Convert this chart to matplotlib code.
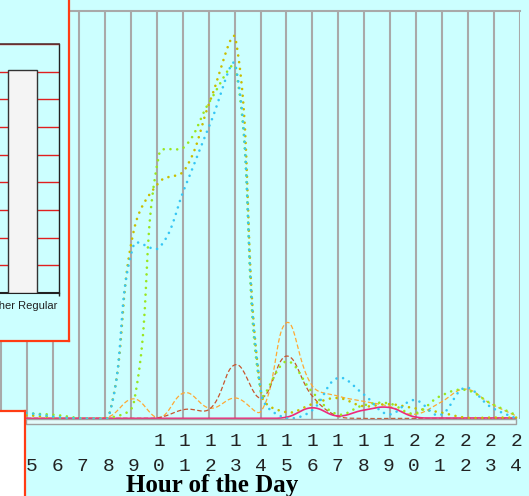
import numpy as np
import matplotlib
matplotlib.use("Agg")
import matplotlib.pyplot as plt
from matplotlib.patches import Rectangle

# ---------------- data ----------------
hours = list(range(4, 25))
tick_hours = list(range(5, 25))

blue_dotted   = [1.5, 1.2, 0.3, 0, 0, 42.6, 41.9, 56.6, 72.3, 86.5, 6, 0, 2, 9.9, 6, 1, 4.5, 0.8, 7.5, 2.8, 0]
yellow_dotted = [1, 0.7, 0.2, 0, 0, 46, 58, 61, 78, 93, 6, 1.5, 3.5, 5, 3, 3.5, 2.5, 1.5, 0.2, 0.2, 0.2]
green_dotted  = [1.5, 1.2, 0.8, 0, 0, 3.7, 65, 66.7, 78, 86, 6, 14, 6.5, 1, 3.2, 3.7, 1.2, 5.4, 7, 3.7, 0.8]
orange_dashed = [0, 0, 0, 0, 0.3, 4.8, 0.2, 6.3, 2.5, 5, 1.8, 23.5, 8, 5.5, 4.2, 3, 1, 3.8, 7.2, 3.6, 0.6]
brown_dashed  = [0, 0, 0, 0, 0, 0, 0.2, 2.2, 2.4, 13.2, 5, 15.3, 5.5, 0.5, 0, 0, 0, 0, 0, 0, 0]
pink_solid    = [0, 0, 0, 0, 0, 0, 0, 0, 0, 0, 0, 0.3, 2.6, 0.6, 2, 2.7, 0.4, 0.1, 0.1, 0.1, 0.1]

bar_categories = ["Other Regular"]
bar_values = [80.6]

x_title = "Hour of the Day"

# ---------------- style ----------------
BG = "#ccffff"
GRID = "#a9a9a9"
FRAME_RED = "#ff3c14"
W, H = 529, 496
YMIN, YMAX = -0.15, 100
XPX, YPX = 25.5, 408.0 / (YMAX - YMIN)   # pixels per hour / per unit

fig = plt.figure(figsize=(W / 100, H / 100), dpi=100, facecolor=BG)


def px_rect(x0, y0, x1, y1):
    return [x0 / W, 1 - y1 / H, (x1 - x0) / W, (y1 - y0) / H]


def spline(xs, ys, tension=0.4, n=24):
    """Tension spline with control points capped to the plot area."""
    P = np.column_stack([np.asarray(xs, float) * XPX, np.asarray(ys, float) * YPX])
    N = len(P)
    cpp = np.zeros_like(P)
    cpn = np.zeros_like(P)
    for i in range(N):
        cur = P[i]
        prv = P[i - 1] if i > 0 else cur
        nxt = P[i + 1] if i < N - 1 else cur
        d01 = np.hypot(*(cur - prv))
        d12 = np.hypot(*(nxt - cur))
        tot = d01 + d12
        s01 = d01 / tot if tot else 0.0
        s12 = d12 / tot if tot else 0.0
        cpp[i] = cur - tension * s01 * (nxt - prv)
        cpn[i] = cur + tension * s12 * (nxt - prv)
    lo, hi = YMIN * YPX, YMAX * YPX
    cpp[:, 1] = np.clip(cpp[:, 1], lo, hi)
    cpn[:, 1] = np.clip(cpn[:, 1], lo, hi)
    t = np.linspace(0, 1, n, endpoint=False)[:, None]
    segs = []
    for i in range(N - 1):
        b = ((1 - t) ** 3 * P[i] + 3 * (1 - t) ** 2 * t * cpn[i]
             + 3 * (1 - t) * t ** 2 * cpp[i + 1] + t ** 3 * P[i + 1])
        segs.append(b)
    segs.append(P[-1:])
    out = np.vstack(segs)
    return out[:, 0] / XPX, out[:, 1] / YPX


# ---------------- main line chart ----------------
ax = fig.add_axes(px_rect(0, 11, 520, 419))
ax.set_facecolor(BG)
ax.set_xlim(3.757, 24.149)
ax.set_ylim(YMIN, YMAX)
for s in ax.spines.values():
    s.set_visible(False)
ax.set_yticks([])

grid_x = 5 + (27 + 25.95 * np.arange(-1, 20) - 31.7) / 25.5
for gx in grid_x:
    ax.axvline(gx, color=GRID, lw=1.5, zorder=1)
ax.axhline(YMAX, color=GRID, lw=1.5, zorder=1, clip_on=False)

dashed_specs = [
    (orange_dashed, "#ffa833"),
    (brown_dashed, "#c8552d"),
]
for vals, col in dashed_specs:
    sx, sy = spline(hours, vals)
    ax.plot(sx, sy, color=col, lw=0.9, ls=(0, (3.6, 1.9)), zorder=3)

sx, sy = spline(hours, pink_solid)
ax.plot(sx, sy, color="#ee2a7b", lw=1.2, zorder=4)

dotted_specs = [
    (yellow_dotted, "#c9bd00"),
    (green_dotted, "#99e620"),
    (blue_dotted, "#36c6f4"),
]
for vals, col in dotted_specs:
    sx, sy = spline(hours, vals)
    ax.plot(sx, sy, color=col, lw=1.9, ls=(0, (0.01, 2.55)),
            dash_capstyle="round", zorder=5)

ax.set_xticks(tick_hours)
ax.set_xticklabels(["\n".join(f"{h:>2}") for h in tick_hours],
                   family="Liberation Mono", fontsize=14, color="#222222",
                   linespacing=1.62)
ax.tick_params(axis="x", length=0, pad=10)

# floor strip under the plot
fig.patches.append(Rectangle((26 / W, 1 - 424 / H), 490 / W, 5 / H,
                             transform=fig.transFigure, facecolor="#e4fbfb",
                             edgecolor="#a0a0a0", lw=1.0, zorder=1))

fig.text(212.5 / W, 1 - 492 / H, x_title, ha="center", va="baseline",
         family="Liberation Serif", fontweight="bold", fontsize=18, color="#000000")

# ---------------- inset bar chart panel ----------------
frame = fig.add_axes(px_rect(-10, -10, 69.3, 341.3), zorder=5)
frame.set_facecolor(BG)
frame.set_xticks([])
frame.set_yticks([])
for s in frame.spines.values():
    s.set_color(FRAME_RED)
    s.set_linewidth(1.6)

bax = fig.add_axes(px_rect(59.3 - 74.4, 44, 59.3, 293), zorder=6)
bax.set_facecolor(BG)
bax.bar(range(len(bar_categories)), bar_values, width=0.39, color="#f4f4f4",
        edgecolor="#333333", lw=1.0, zorder=3)
bax.set_xlim(-0.5, 0.5)
bax.set_ylim(0, 90)
bax.set_yticks(np.arange(0, 91, 10))
bax.yaxis.grid(True, color="#e02020", lw=1.0, zorder=0)
bax.set_axisbelow(True)
bax.tick_params(axis="y", length=0, labelleft=False)
bax.set_xticks(range(len(bar_categories)))
bax.set_xticklabels(bar_categories, family="Liberation Sans", fontsize=8, color="#222222")
bax.tick_params(axis="x", length=0, pad=6)
bax.set_xticks([0.5], minor=True)
bax.tick_params(axis="x", which="minor", length=2.5, width=1, color="#222222")
bax.spines["left"].set_visible(False)
bax.spines["top"].set_color("#553333")
bax.spines["top"].set_linewidth(1.2)
bax.spines["right"].set_color("#222222")
bax.spines["right"].set_linewidth(1.0)
bax.spines["bottom"].set_color("#222222")
bax.spines["bottom"].set_linewidth(1.5)

# ---------------- legend box (bottom-left) ----------------
lbox = fig.add_axes(px_rect(-10, 410.5, 25.3, 510), zorder=5)
lbox.set_facecolor("white")
lbox.set_xticks([])
lbox.set_yticks([])
for s in lbox.spines.values():
    s.set_color(FRAME_RED)
    s.set_linewidth(1.6)

fig.savefig("out.png", dpi=100, facecolor=BG)
